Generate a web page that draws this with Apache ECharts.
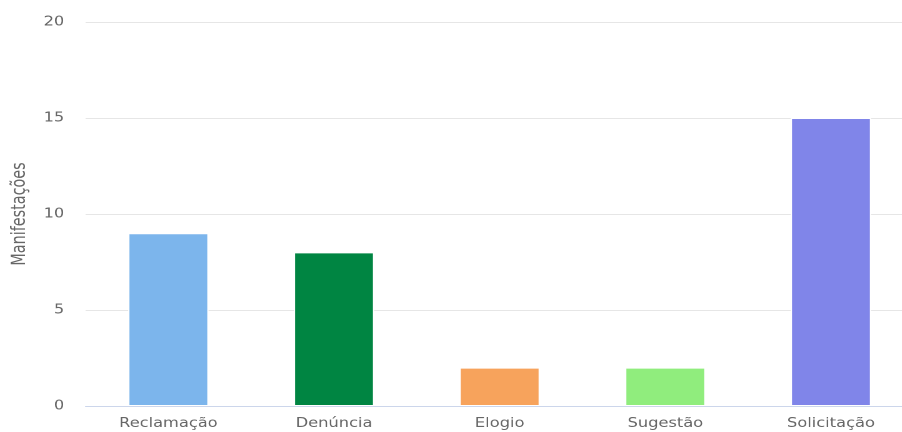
<!DOCTYPE html>
<html><head><meta charset="utf-8">
<script src="https://cdn.jsdelivr.net/npm/echarts@6/dist/echarts.min.js"></script>
<style>html,body{margin:0;padding:0;background:#fff;overflow:hidden}
#wrap{width:902px;height:432px;overflow:hidden}
#c{width:740px;height:432px;transform:scaleX(1.25);transform-origin:0 0}</style>
</head><body><div id="wrap"><div id="c"></div></div>
<script>
const categories = ["Reclamação", "Denúncia", "Elogio", "Sugestão", "Solicitação"];
const values = [9, 8, 2, 2, 15];
const colors = ["#7cb5ec", "#008542", "#f7a35c", "#90ed7d", "#8085e9"];
const yTicks = [0, 5, 10, 15, 20];

const chart = echarts.init(document.getElementById('c'), null, { devicePixelRatio: 2 });
chart.setOption({
  animation: false,
  grid: { left: 66, right: 9, top: 22, bottom: 26, containLabel: false },
  xAxis: {
    type: 'category', data: categories,
    axisLine: { lineStyle: { color: '#ccd6eb', width: 1 } },
    axisTick: { show: false },
    axisLabel: { color: '#666', fontFamily: 'DejaVu Sans', fontSize: 13, margin: 11 }
  },
  yAxis: {
    type: 'value', min: yTicks[0], max: yTicks[yTicks.length - 1], interval: 5,
    name: 'Manifestações', nameLocation: 'middle', nameGap: 42, nameRotate: 90,
    nameTextStyle: { color: '#666', fontFamily: 'DejaVu Sans Condensed', fontSize: 16 },
    axisLine: { show: false }, axisTick: { show: false },
    axisLabel: { color: '#666', fontFamily: 'DejaVu Sans', fontSize: 13, margin: 17 },
    splitLine: { lineStyle: { color: '#e6e6e6' } }
  },
  series: [{
    type: 'bar', barWidth: '48.5%',
    data: values.map((v, i) => ({ value: v, itemStyle: { color: colors[i] } })),
    itemStyle: { borderColor: '#fff', borderWidth: 1 }
  }]
});
</script></body></html>
